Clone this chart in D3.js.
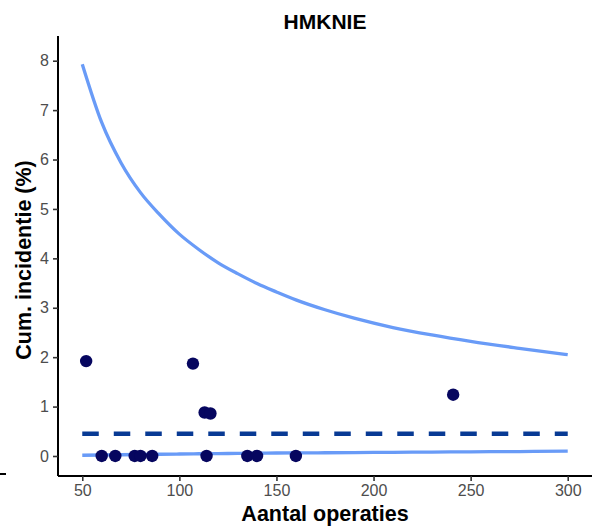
<!DOCTYPE html>
<html>
<head>
<meta charset="utf-8">
<script src="https://cdn.jsdelivr.net/npm/d3@7"></script>
<style>
  html, body { margin: 0; padding: 0; background: #fff; }
  svg { display: block; font-family: "Liberation Sans", Arial, sans-serif; }
</style>
</head>
<body>
<svg id="chart" width="594" height="528"></svg>
<script>
// ---- data ----
const titleText = "HMKNIE";
const xLabel = "Aantal operaties";
const yLabel = "Cum. incidentie (%)";
const xTicks = [50, 100, 150, 200, 250, 300];
const yTicks = [0, 1, 2, 3, 4, 5, 6, 7, 8];
const pointN   = [52, 60, 67, 77, 80, 86, 107, 113, 116, 114, 135, 140, 160, 241];
const pointPct = [1.92, 0, 0, 0, 0, 0, 1.87, 0.88, 0.86, 0, 0, 0, 0, 1.24];
const limitN   = [50, 60, 70, 80, 90, 100, 110, 120, 130, 140, 150, 160, 175, 190, 210, 230, 250, 275, 300];
const upperPct = [7.93, 6.75, 5.93, 5.33, 4.88, 4.49, 4.18, 3.91, 3.69, 3.49, 3.32, 3.16, 2.96, 2.79, 2.60, 2.45, 2.32, 2.18, 2.05];
const lowerPct = [0.015, 0.02, 0.025, 0.03, 0.035, 0.04, 0.045, 0.048, 0.052, 0.055, 0.06, 0.062, 0.066, 0.07, 0.075, 0.08, 0.085, 0.09, 0.10];
const meanPct = 0.45;
const meanRange = [50, 300];

(function () {
// ---- layout ----
const svg = d3.select("#chart");
const mLeft = 58, mRight = 592, mTop = 36, mBottom = 476;
const x = d3.scaleLinear().domain([37.5, 312.5]).range([mLeft, mRight]);
const y = d3.scaleLinear().domain([-0.405, 8.5]).range([mBottom, mTop]);

const curveColor = "#699bf7";
const dashColor = "#083a94";
const pointColor = "#06065f";

const line = d3.line().x(d => x(d[0])).y(d => y(d[1])).curve(d3.curveMonotoneX);

svg.append("path")
  .datum(limitN.map((n, i) => [n, upperPct[i]]))
  .attr("d", line).attr("fill", "none")
  .attr("stroke", curveColor).attr("stroke-width", 3.3);

svg.append("path")
  .datum(limitN.map((n, i) => [n, lowerPct[i]]))
  .attr("d", line).attr("fill", "none")
  .attr("stroke", curveColor).attr("stroke-width", 3.3);

svg.append("path")
  .datum(meanRange.map(n => [n, meanPct]))
  .attr("d", d3.line().x(d => x(d[0])).y(d => y(d[1])))
  .attr("fill", "none")
  .attr("stroke", dashColor).attr("stroke-width", 4.5)
  .attr("stroke-dasharray", "16.5,15");

svg.append("g").selectAll("circle")
  .data(pointN.map((n, i) => [n, pointPct[i]]))
  .join("circle")
  .attr("cx", d => x(d[0])).attr("cy", d => y(d[1]))
  .attr("r", 6.2).attr("fill", pointColor);

// ---- axes ----
const xAxis = svg.append("g")
  .attr("transform", `translate(0,${mBottom})`)
  .call(d3.axisBottom(x).tickValues(xTicks).tickSize(5).tickPadding(4).tickSizeOuter(0));
const yAxis = svg.append("g")
  .attr("transform", `translate(${mLeft},0)`)
  .call(d3.axisLeft(y).tickValues(yTicks).tickSize(5).tickPadding(4).tickSizeOuter(0));

[xAxis, yAxis].forEach(g => {
  g.select(".domain").attr("stroke", "#000").attr("stroke-width", 2);
  g.selectAll(".tick line").attr("stroke", "#333").attr("stroke-width", 1.6);
  g.selectAll(".tick text").attr("fill", "#4d4d4d")
    .attr("font-size", 16).attr("font-family", "'Liberation Sans', Arial, sans-serif");
});
yAxis.select(".domain").attr("d", `M0,${mBottom}V${mTop}`);
xAxis.select(".domain").attr("d", `M${mLeft},0H${mRight}`);

// ---- titles ----
svg.append("text")
  .attr("x", 325).attr("y", 29).attr("text-anchor", "middle")
  .attr("font-size", 21).attr("font-weight", "bold").attr("fill", "#000")
  .text(titleText);

svg.append("text")
  .attr("x", 325).attr("y", 521).attr("text-anchor", "middle")
  .attr("font-size", 21.5).attr("font-weight", "bold").attr("fill", "#000")
  .text(xLabel);

svg.append("text")
  .attr("transform", `translate(31,${(mTop + mBottom) / 2 + 4}) rotate(-90)`)
  .attr("text-anchor", "middle")
  .attr("font-size", 21.5).attr("font-weight", "bold").attr("fill", "#000")
  .text(yLabel);

// small stray mark at bottom-left as in the reference
svg.append("line")
  .attr("x1", 0).attr("x2", 6).attr("y1", 474).attr("y2", 474)
  .attr("stroke", "#000").attr("stroke-width", 2);
})();
</script>
</body>
</html>
